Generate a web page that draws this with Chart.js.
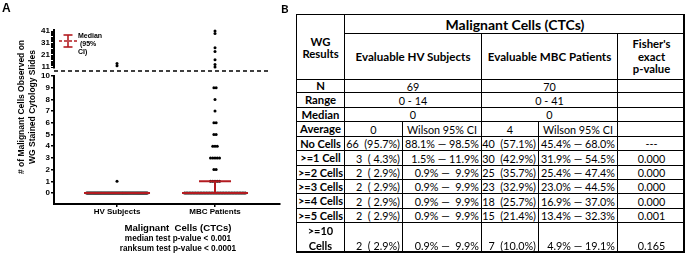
<!DOCTYPE html>
<html><head><meta charset="utf-8">
<script src="https://cdn.jsdelivr.net/npm/chart.js@4"></script>
<style>
html,body{margin:0;padding:0;background:#fff;width:685px;height:254px;overflow:hidden;position:relative;font-family:"Liberation Sans",Arial,sans-serif;}
#wrap{position:absolute;left:0;top:0;width:290px;height:254px;}
.lbl{position:absolute;white-space:pre;color:#000;font-weight:bold;}
#tbl{position:absolute;left:296px;top:14px;width:389px;height:239px;box-sizing:border-box;border-right:2px solid #000;border-bottom:2px solid #000;}
.cell{position:absolute;box-sizing:border-box;border-left:1px solid #000;border-top:1px solid #000;font-family:Lato,sans-serif;font-size:10.8px;display:flex;white-space:pre;line-height:1.1;color:#000;}
</style></head><body>
<div id="wrap"><canvas id="c"></canvas></div>
<div class="lbl" style="left:2px;top:1px;font-size:12px;">A</div>
<div class="lbl" style="left:281px;top:2px;font-size:11.5px;font-family:Lato,sans-serif;">B</div>
<div class="lbl" id="ytitle" style="left:-63px;top:96px;width:180px;height:22px;text-align:center;font-size:8.5px;line-height:11px;transform:rotate(-90deg);"></div>
<div class="lbl" id="leg" style="left:78px;top:32px;font-size:7px;line-height:8px;"></div>
<div class="lbl" id="xt1" style="left:90px;top:222px;width:176px;text-align:center;font-size:9.6px;"></div>
<div class="lbl" id="xt2" style="left:90px;top:234px;width:176px;text-align:center;font-size:8.2px;"></div>
<div class="lbl" id="xt3" style="left:90px;top:244px;width:176px;text-align:center;font-size:8.2px;"></div>
<div id="tbl"></div>
<script>
// ---------- Panel A data ----------
const groups = ['HV Subjects', 'MBC Patients'];
const hvLevels = [0, 1, 12, 14];
const hvCounts = [66, 1, 1, 1];
const mbcLevels = [0, 1, 2, 3, 4, 5, 6, 7, 8, 9, 11, 13, 17, 24, 27, 39, 41];
const mbcCounts = [40, 5, 2, 5, 3, 2, 2, 1, 1, 2, 1, 1, 1, 1, 1, 1, 1];
const medians = [0, 0];
const ciLow = [0, 0];
const ciHigh = [0, 1];
const lowTicks = [0, 1, 2, 3, 4, 5, 6, 7, 8, 9, 10];
const highLabelTicks = [11, 21, 31, 41];
const yTitle = '# of Malignant Cells Observed on\nWG Stained Cytology Slides';
const xTitle = 'Malignant  Cells (CTCs)';
const testLines = ['median test p-value < 0.001', 'ranksum test p-value < 0.0001'];
const legendText = 'Median\n (95%\nCI)';

// ---------- Panel B data ----------
const tableTitle = 'Malignant Cells (CTCs)';
const firstHeader = 'WG\nResults';
const colGroups = ['Evaluable HV Subjects', 'Evaluable MBC Patients'];
const pHeader = "Fisher's\nexact\np-value";
const summaryLabels = ['N', 'Range', 'Median'];
const summaryHV = ['69', '0 - 14', '0'];
const summaryMBC = ['70', '0 - 41', '0'];
const averageLabel = 'Average';
const averages = ['0', '4'];
const ciLabel = 'Wilson 95% CI';
const threshLabels = ['No Cells', '>=1 Cell', '>=2 Cells', '>=3 Cells', '>=4 Cells', '>=5 Cells', '>=10\nCells'];
const hvN = [66, 3, 2, 2, 2, 2, 2];
const hvPct = [95.7, 4.3, 2.9, 2.9, 2.9, 2.9, 2.9];
const hvLo = [88.1, 1.5, 0.9, 0.9, 0.9, 0.9, 0.9];
const hvHi = [98.5, 11.9, 9.9, 9.9, 9.9, 9.9, 9.9];
const mbcN = [40, 30, 25, 23, 18, 15, 7];
const mbcPct = [57.1, 42.9, 35.7, 32.9, 25.7, 21.4, 10.0];
const mbcLo = [45.4, 31.9, 25.4, 23.0, 16.9, 13.4, 4.9];
const mbcHi = [68.0, 54.5, 47.4, 44.5, 37.0, 32.3, 19.1];
const fisherP = ['---', '0.000', '0.000', '0.000', '0.000', '0.001', '0.165'];

// ---------- texts ----------
document.getElementById('ytitle').textContent = yTitle;
document.getElementById('leg').textContent = legendText;
document.getElementById('xt1').textContent = xTitle;
document.getElementById('xt2').textContent = testLines[0];
document.getElementById('xt3').textContent = testLines[1];

// ---------- table ----------
const colX = [0, 48, 106, 185, 242, 321, 389];
const rowY = [0, 19, 65, 78, 93, 107, 122, 136, 151, 165, 179, 194, 208, 238];
const tbl = document.getElementById('tbl');
function cell(r0, r1, c0, c1, text, opt) {
  opt = opt || {};
  const d = document.createElement('div');
  d.className = 'cell';
  d.style.left = colX[c0] + 'px';
  d.style.top = rowY[r0] + 'px';
  d.style.width = (colX[c1] - colX[c0] + 1) + 'px';
  d.style.height = (rowY[r1] - rowY[r0] + 1) + 'px';
  d.style.justifyContent = opt.align === 'right' ? 'flex-end' : (opt.align === 'left' ? 'flex-start' : 'center');
  d.style.alignItems = opt.valign === 'bottom' ? 'flex-end' : 'center';
  d.style.textAlign = opt.align === 'right' ? 'right' : 'center';
  d.style.padding = opt.valign === 'bottom' ? '0 3px 1px 2px' : '0 3px 0 2px';
  if (opt.bold) d.style.fontWeight = 'bold';
  if (opt.size) d.style.fontSize = opt.size + 'px';
  if (opt.lh) d.style.lineHeight = opt.lh;
  d.textContent = text;
  tbl.appendChild(d);
}
const fmtCount = (n, p) => `${n}  (${p.toFixed(1).padStart(4, ' ')}%)`;
const fmtCI = (lo, hi) => `${lo.toFixed(1)}% — ${hi.toFixed(1).padStart(4, ' ')}%`;
cell(0, 2, 0, 1, firstHeader, {bold: true, size: 11.3, lh: '12px'});
cell(0, 1, 1, 6, tableTitle, {bold: true, size: 14});
cell(1, 2, 1, 3, colGroups[0], {bold: true, size: 11.6});
cell(1, 2, 3, 5, colGroups[1], {bold: true, size: 11.6});
cell(1, 2, 5, 6, pHeader, {bold: true, size: 11.3, lh: '12.5px'});
summaryLabels.forEach((l, i) => {
  cell(2 + i, 3 + i, 0, 1, l, {bold: true, size: 11.3});
  cell(2 + i, 3 + i, 1, 3, summaryHV[i]);
  cell(2 + i, 3 + i, 3, 5, summaryMBC[i]);
  cell(2 + i, 3 + i, 5, 6, '');
});
cell(5, 6, 0, 1, averageLabel, {bold: true, size: 11.3});
cell(5, 6, 1, 2, averages[0]);
cell(5, 6, 2, 3, ciLabel);
cell(5, 6, 3, 4, averages[1]);
cell(5, 6, 4, 5, ciLabel);
cell(5, 6, 5, 6, '');
threshLabels.forEach((l, i) => {
  const r = 6 + i;
  const last = i === threshLabels.length - 1;
  const vb = last ? 'bottom' : 'center';
  cell(r, r + 1, 0, 1, l, {bold: true, size: 11, lh: last ? '15px' : null});
  cell(r, r + 1, 1, 2, fmtCount(hvN[i], hvPct[i]), {align: 'right', valign: vb});
  cell(r, r + 1, 2, 3, fmtCI(hvLo[i], hvHi[i]), {align: 'right', valign: vb});
  cell(r, r + 1, 3, 4, fmtCount(mbcN[i], mbcPct[i]), {align: 'right', valign: vb});
  cell(r, r + 1, 4, 5, fmtCI(mbcLo[i], mbcHi[i]), {align: 'right', valign: vb});
  cell(r, r + 1, 5, 6, fisherP[i], {valign: vb});
});

// ---------- chart ----------
const RED = '#b31b20';
const SPLIT = 10; // values above go on the upper (broken) axis
function buildPoints(levels, counts, gx, upper) {
  const pts = [];
  levels.forEach((v, i) => {
    if ((v > SPLIT) !== upper) return;
    const n = counts[i];
    const step = n > 1 ? Math.min(0.023, 0.62 / (n - 1)) : 0;
    for (let k = 0; k < n; k++) pts.push({x: gx + (k - (n - 1) / 2) * step, y: v});
  });
  return pts;
}
const dotStyle = {backgroundColor: '#000', borderWidth: 0, pointRadius: 1.5, pointHoverRadius: 1.5};
const datasets = [
  Object.assign({data: buildPoints(hvLevels, hvCounts, 1, false), yAxisID: 'yLow'}, dotStyle),
  Object.assign({data: buildPoints(mbcLevels, mbcCounts, 2, false), yAxisID: 'yLow'}, dotStyle),
  Object.assign({data: buildPoints(hvLevels, hvCounts, 1, true), yAxisID: 'yHigh'}, dotStyle),
  Object.assign({data: buildPoints(mbcLevels, mbcCounts, 2, true), yAxisID: 'yHigh'}, dotStyle),
];

const deco = {
  id: 'deco',
  afterDatasetsDraw(chart) {
    const {ctx, chartArea: a, scales} = chart;
    const x = scales.x, yL = scales.yLow, yH = scales.yHigh;
    const line = (x1, y1, x2, y2) => { ctx.beginPath(); ctx.moveTo(x1, y1); ctx.lineTo(x2, y2); ctx.stroke(); };
    ctx.save();
    ctx.strokeStyle = '#000';
    ctx.lineWidth = 2;
    line(a.left, yL.getPixelForValue(lowTicks[lowTicks.length - 1]) - 1, a.left, a.bottom + 1);
    line(a.left, yH.getPixelForValue(highLabelTicks[highLabelTicks.length - 1]) - 2, a.left, yH.getPixelForValue(highLabelTicks[0]) + 1.5);
    ctx.lineWidth = 1.4;
    ctx.setLineDash([4, 3]);
    line(a.left, yH.bottom, a.right - 12, yH.bottom);
    ctx.setLineDash([]);
    ctx.strokeStyle = RED;
    ctx.lineWidth = 2;
    groups.forEach((g, i) => {
      const cx = x.getPixelForValue(i + 1);
      const ym = yL.getPixelForValue(medians[i]);
      if (ciHigh[i] > medians[i]) {
        const yh = yL.getPixelForValue(ciHigh[i]);
        line(cx, ym, cx, yh); line(cx - 16, yh, cx + 16, yh);
      }
      if (ciLow[i] < medians[i]) {
        const yl = yL.getPixelForValue(ciLow[i]);
        line(cx, ym, cx, yl); line(cx - 16, yl, cx + 16, yl);
      }
      line(cx - 33, ym, cx + 33, ym);
    });
    // legend symbol: median (dashed) with 95% CI bar
    const lx = 68, lt = 35, lb = 47, lm = 41;
    ctx.lineWidth = 1.6;
    line(lx, lt, lx, lb); line(lx - 4.5, lt, lx + 4.5, lt); line(lx - 4.5, lb, lx + 4.5, lb);
    ctx.setLineDash([3, 2]);
    line(lx - 9, lm, lx + 9, lm);
    ctx.restore();
  }
};

const tickFont = {family: '"Liberation Sans", Arial, sans-serif', size: 8, weight: 'bold'};
new Chart(document.getElementById('c'), {
  type: 'scatter',
  data: {datasets},
  plugins: [deco],
  options: {
    responsive: true, maintainAspectRatio: false, animation: false, events: [],
    layout: {padding: {left: 0, top: 29, right: 10, bottom: 0}},
    plugins: {legend: {display: false}, tooltip: {enabled: false}},
    scales: {
      x: {
        type: 'linear', min: 0.357, max: 2.663,
        afterBuildTicks: (ax) => { ax.ticks = groups.map((g, i) => ({value: i + 1})); },
        afterFit: (ax) => { ax.height = 50; },
        ticks: {callback: (v) => groups[Math.round(v) - 1], color: '#000', font: tickFont, padding: 0, maxRotation: 0, autoSkip: false},
        grid: {drawOnChartArea: false, tickLength: 3, color: '#000', lineWidth: 1.5},
        border: {display: true, width: 2, color: '#000'}
      },
      yLow: {
        type: 'linear', position: 'left', stack: 'y', stackWeight: 133,
        min: -0.94, max: 10.43,
        afterBuildTicks: (ax) => { ax.ticks = lowTicks.map(v => ({value: v})); },
        afterFit: (ax) => { ax.width = 54; },
        ticks: {color: '#000', font: tickFont, padding: 1, autoSkip: false},
        grid: {drawOnChartArea: false, tickLength: 3, color: '#000', lineWidth: 1.5},
        border: {display: false}
      },
      yHigh: {
        type: 'linear', position: 'left', stack: 'y', stackWeight: 42,
        min: 7.67, max: 42.67,
        afterBuildTicks: (ax) => {
          const t = [];
          for (let v = highLabelTicks[0]; v <= highLabelTicks[highLabelTicks.length - 1]; v++) t.push({value: v});
          ax.ticks = t;
        },
        afterFit: (ax) => { ax.width = 54; },
        ticks: {color: '#000', font: tickFont, padding: 1, autoSkip: false,
          callback: (v) => highLabelTicks.includes(v) ? String(v) : ''},
        grid: {drawOnChartArea: false, tickLength: 3, color: '#000', lineWidth: 1},
        border: {display: false}
      }
    }
  }
});
</script>
</body></html>
